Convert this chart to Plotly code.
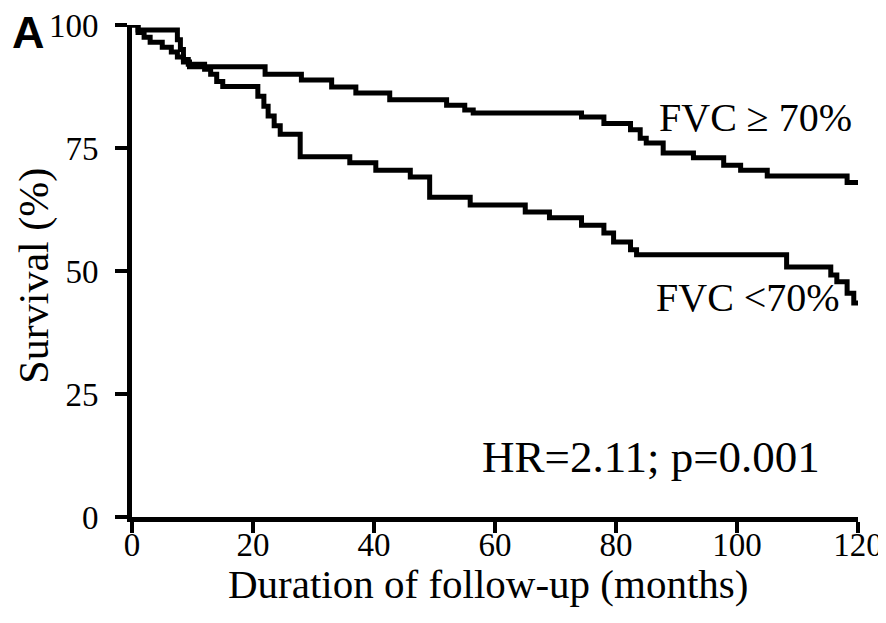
import plotly.graph_objects as go

# FVC >= 70% group (Kaplan-Meier step points)
months_high = [0, 1, 2, 3, 5, 6.5, 7.5, 8.5, 9.5, 22, 28, 33, 37, 42.6, 52, 55, 56.4,
               74.3, 78, 82.4, 84, 85, 87.8, 92.8, 97.8, 100.6, 105, 118.2, 120]
surv_high = [100, 98.5, 97.5, 96.5, 95.5, 94.5, 93.5, 92.5, 91.5, 90, 88.8, 87.4, 86.2, 84.8, 83.7, 82.7, 82.1,
             81.3, 80, 78.7, 77, 76, 74, 73, 71.5, 70.5, 69.3, 68, 68]

# FVC < 70% group
months_low = [0, 1, 7.5, 8, 8.5, 9.3, 12, 13, 14, 15, 20.8, 21.8, 22.5, 23.5, 24.5, 27.8, 36, 40.3,
              46, 49.2, 55.9, 65, 69, 74.3, 78, 79.6, 82.4, 83.4, 108.2, 115.5, 116.5, 118.2, 119.3, 120]
surv_low = [100, 99, 97, 95, 93, 92, 91, 90, 88.5, 87.5, 85.5, 83.5, 81.5, 79.5, 77.8, 73.2, 72, 70.5,
            69.1, 65, 63.4, 62, 60.8, 59.3, 57.7, 55.9, 54.3, 53.3, 50.8, 49.2, 47.8, 45.5, 43.5, 43.5]

x_ticks = [0, 20, 40, 60, 80, 100, 120]
y_ticks = [0, 25, 50, 75, 100]

SERIF = "Liberation Serif"

fig = go.Figure()
fig.add_trace(go.Scatter(x=months_high, y=surv_high, mode="lines", line_shape="hv",
                         line=dict(color="black", width=5), name="FVC ≥ 70%"))
fig.add_trace(go.Scatter(x=months_low, y=surv_low, mode="lines", line_shape="hv",
                         line=dict(color="black", width=5), name="FVC <70%"))

fig.update_layout(
    width=886, height=623,
    margin=dict(l=124, r=36, t=17, b=114),
    paper_bgcolor="white", plot_bgcolor="white",
    showlegend=False,
    font=dict(family=SERIF, color="black"),
)
fig.update_xaxes(range=[0, 120], tickvals=x_ticks, showgrid=False, zeroline=False,
                 automargin=False, ticklabeloverflow="allow",
                 showline=True, linecolor="black", linewidth=5,
                 ticks="outside", ticklen=11, tickwidth=4, tickcolor="black",
                 ticklabelstandoff=-17,
                 tickfont=dict(family=SERIF, size=33, color="black"))
fig.update_yaxes(range=[0, 100], tickvals=y_ticks, showgrid=False, zeroline=False,
                 automargin=False, ticklabeloverflow="allow",
                 showline=True, linecolor="black", linewidth=5,
                 ticks="outside", ticklen=12, tickwidth=4, tickcolor="black",
                 ticklabelstandoff=10,
                 tickfont=dict(family=SERIF, size=33, color="black"))

# axis titles
fig.add_annotation(xref="paper", yref="paper", x=0.49, y=-0.136, text="Duration of follow-up (months)",
                   showarrow=False, xanchor="center", yanchor="middle",
                   font=dict(family=SERIF, size=41, color="black"))
fig.add_annotation(xref="paper", yref="paper", x=-0.134, y=0.49, text="Survival (%)", textangle=-90,
                   showarrow=False, xanchor="center", yanchor="middle",
                   font=dict(family=SERIF, size=42, color="black"))

fig.add_annotation(x=86.8, y=81.1, text="FVC ≥ 70%", showarrow=False, xanchor="left", yanchor="middle",
                   font=dict(family=SERIF, size=40, color="black"))
fig.add_annotation(x=86.3, y=44.7, text="FVC <70%", showarrow=False, xanchor="left", yanchor="middle",
                   font=dict(family=SERIF, size=40, color="black"))
fig.add_annotation(x=57.5, y=12.2, text="HR=2.11; p=0.001", showarrow=False, xanchor="left", yanchor="middle",
                   font=dict(family=SERIF, size=45, color="black"))
fig.add_annotation(xref="paper", yref="paper", x=-0.168, y=0.985, text="<b>A</b>", showarrow=False,
                   xanchor="left", yanchor="middle",
                   font=dict(family="Liberation Sans", size=45, color="black"))

fig.write_html("out.html")
